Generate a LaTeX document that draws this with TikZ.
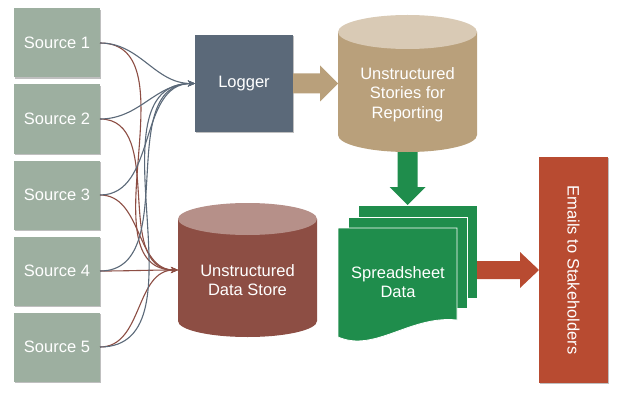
\documentclass[tikz,border=0pt]{standalone}
\usepackage{fontspec}
\setmainfont{Liberation Sans}
\usetikzlibrary{arrows.meta, shadows}
\definecolor{sourcefill}{HTML}{9DAFA0}
\definecolor{loggerfill}{HTML}{5B6979}
\definecolor{storyfill}{HTML}{B9A07B}
\definecolor{storytop}{HTML}{D9CAB5}
\definecolor{storefill}{HTML}{8D4E44}
\definecolor{storetop}{HTML}{B69089}
\definecolor{sheetfill}{HTML}{1F8D4C}
\definecolor{mailfill}{HTML}{B84B31}
\tikzset{
  blocktext/.style={text=white, font=\fontsize{16.5}{19.5}\selectfont, align=center},
  blockbox/.style={blocktext, inner sep=0pt, outer sep=0pt,
    drop shadow={shadow xshift=1.2pt, shadow yshift=-1.2pt, fill=black, opacity=0.25}},
  holder/.style={inner sep=0pt, outer sep=0pt},
  feed/.style={line width=1.1pt, -{Stealth[length=7pt, width=6pt]}},
}

\begin{document}
\begin{tikzpicture}[x=1pt, y=1pt]
\useasboundingbox[fill=white] (0,0) rectangle (626,405);
% sources on the left
\foreach \i/\y in {1/362, 2/286, 3/210, 4/134, 5/58} {
    \node[blockbox, fill=sourcefill, minimum width=86pt, minimum height=69pt] (src\i) at (57,\y) {Source \i};
}
\node[blockbox, fill=loggerfill, minimum width=98pt, minimum height=97pt] (logger) at (244,321.5) {Logger};
% cylinders
\node[holder, minimum width=139pt, minimum height=137pt] (stories) at (407.5,321.5) {};
\node[holder, minimum width=139pt, minimum height=134pt] (store) at (247.5,135) {};
% green arrow down, under the cylinder
\fill[sheetfill] ([xshift=-10pt]stories.south) -- ++(0,-35) -- ++(-8,0) -- ++(18,-18)
    -- ++(18,18) -- ++(-8,0) -- ++(0,35) -- cycle;
\fill[storyfill] ([yshift=-17pt]stories.north west) -- ([yshift=17pt]stories.south west)
    arc[start angle=180, end angle=360, x radius=69.5, y radius=17]
    -- ([yshift=-17pt]stories.north east) -- cycle;
\fill[storytop] ([yshift=-17pt]stories.north) ellipse[x radius=69.5, y radius=17];
\node[blocktext] (storiestext) at ([yshift=-11pt]stories.center) {Unstructured\\Stories for\\Reporting};
\fill[storefill] ([yshift=-16pt]store.north west) -- ([yshift=16pt]store.south west)
    arc[start angle=180, end angle=360, x radius=69.5, y radius=16]
    -- ([yshift=-16pt]store.north east) -- cycle;
\fill[storetop] ([yshift=-16pt]store.north) ellipse[x radius=69.5, y radius=16];
\node[blocktext] (storetext) at ([yshift=-10pt]store.center) {Unstructured\\Data Store};
% tan arrow
\fill[storyfill] (stories.west) -- ++(-18,18) -- ++(0,-8) -- ++(-27,0) -- ++(0,-20)
    -- ++(27,0) -- ++(0,-8) -- cycle;
% spreadsheet pages
\filldraw[sheetfill, draw=white, line width=0.8pt] (358,107) rectangle (477,200);
\filldraw[sheetfill, draw=white, line width=0.8pt] (348,97) rectangle (467,188);
\filldraw[sheetfill, draw=white, line width=0.8pt] (338,177) -- (338,68)
    .. controls (375,52) and (410,90) .. (457,85) -- (457,177) -- cycle;
\node[blocktext] (sheet) at (398,123) {Spreadsheet\\Data};
% emails
\node[blockbox, fill=mailfill, minimum width=69pt, minimum height=226pt] (mails) at (573.5,135) {};
\node[blocktext, rotate=-90] (mailstext) at (mails.center) {Emails to Stakeholders};
\fill[mailfill] (mails.west) -- ++(-19,18) -- ++(0,-9) -- ++(-43,0) -- ++(0,-18)
    -- ++(43,0) -- ++(0,-9) -- cycle;
% curved feeds
\foreach \i in {1,...,5} {
    \draw[feed, storefill] (src\i.east) to[out=0, in=180] (store.west);
    \draw[feed, loggerfill] (src\i.east) to[out=0, in=180] (logger.west);
}
\end{tikzpicture}
\end{document}
